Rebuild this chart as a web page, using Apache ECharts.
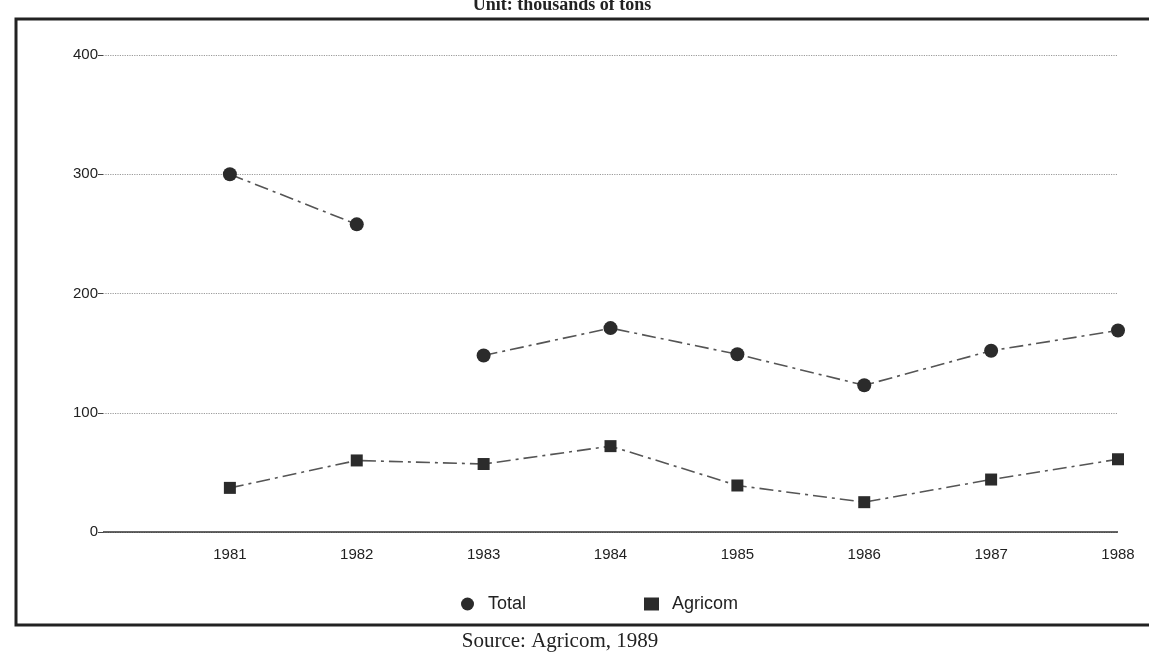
<!DOCTYPE html>
<html>
<head>
<meta charset="utf-8">
<script src="https://cdn.jsdelivr.net/npm/echarts@6/dist/echarts.min.js"></script>
<style>
  html, body { margin: 0; padding: 0; background: #fff; }
  #chart { width: 1149px; height: 659px; }
</style>
</head>
<body>
<div id="chart"></div>
<script>
// years on the x axis
const years = [1981, 1982, 1983, 1984, 1985, 1986, 1987, 1988];
// Total, thousands of tons (no line drawn between 1982 and 1983)
const totalEarly = [300, 258];
const totalLate = [148, 171, 149, 123, 152, 169];
// Agricom, thousands of tons
const agricom = [37, 60, 57, 72, 39, 25, 44, 61];
const yTicks = [0, 100, 200, 300, 400];

const chart = echarts.init(document.getElementById('chart'));

const lineCommon = {
  type: 'line',
  symbolSize: 14,
  lineStyle: { color: '#555', width: 1.6, type: [14, 5, 3, 5] },
  itemStyle: { color: '#2b2b2b' },
  z: 3
};

const option = {
  backgroundColor: '#fff',
  animation: false,
  textStyle: { fontFamily: 'Liberation Sans, Arial, sans-serif' },
  grid: { left: 103, right: 31, top: 55, bottom: 127 },
  graphic: [
    {
      type: 'rect',
      shape: { x: 16, y: 19, width: 1160, height: 606 },
      style: { fill: 'none', stroke: '#222', lineWidth: 3 },
      z: 0
    },
    {
      type: 'text',
      x: 562,
      y: -4,
      style: {
        text: 'Unit: thousands of tons',
        align: 'center',
        font: 'bold 18px "Liberation Serif", "DejaVu Serif", serif',
        fill: '#222'
      }
    },
    {
      type: 'text',
      x: 560,
      y: 631,
      style: {
        text: 'Source: Agricom, 1989',
        align: 'center',
        font: '21px "Liberation Serif", "DejaVu Serif", serif',
        fill: '#222'
      }
    }
  ],
  legend: {
    top: 590,
    left: 456,
    itemGap: 118,
    itemWidth: 15,
    itemHeight: 13,
    textStyle: { fontSize: 18, color: '#222', padding: [0, 0, 0, 8] },
    data: [
      { name: 'Total', icon: 'circle' },
      { name: 'Agricom', icon: 'rect' }
    ]
  },
  xAxis: {
    type: 'value',
    min: 1980,
    max: 1988,
    interval: 1,
    axisLine: { show: false },
    axisTick: { show: false },
    splitLine: { show: false },
    axisLabel: {
      fontSize: 15,
      color: '#222',
      margin: 15,
      formatter: v => (years.includes(v) ? String(v) : '')
    }
  },
  yAxis: {
    type: 'value',
    min: yTicks[0],
    max: yTicks[yTicks.length - 1],
    interval: 100,
    axisLine: { show: false },
    axisTick: { show: true, length: 5, lineStyle: { color: '#444' } },
    axisLabel: { fontSize: 15, color: '#222', margin: 5 },
    splitLine: { lineStyle: { color: '#9a9a9a', type: 'dotted', width: 1.2 } }
  },
  series: [
    {
      ...lineCommon,
      name: 'Total',
      symbol: 'circle',
      data: totalEarly.map((v, i) => [years[i], v])
    },
    {
      ...lineCommon,
      name: 'Total',
      symbol: 'circle',
      data: totalLate.map((v, i) => [years[i + 2], v])
    },
    {
      ...lineCommon,
      name: 'Agricom',
      symbol: 'rect',
      symbolSize: 12,
      data: agricom.map((v, i) => [years[i], v]),
      markLine: {
        silent: true,
        symbol: 'none',
        label: { show: false },
        lineStyle: { color: '#333', type: 'solid', width: 1.6 },
        data: [{ yAxis: 0 }]
      }
    }
  ]
};

chart.setOption(option);
</script>
</body>
</html>
